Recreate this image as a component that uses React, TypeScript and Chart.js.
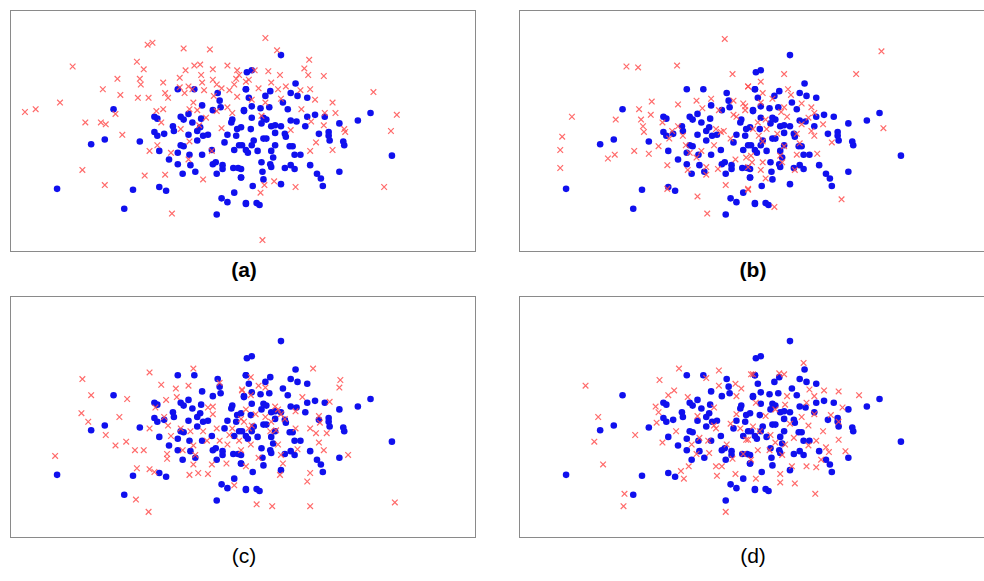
import { useRef, useEffect } from 'react';
import Chart from 'chart.js/auto';

type P = [number, number];

// blue points are shared by all four panels (pixel-like units inside the frame)
const bluePoints: P[] = [
  [53,193],[88,146],[102,141],[111,109],[122,214],[131,194],[138,143],[153,117],[156,119],[153,133],
  [156,137],[163,135],[158,153],[158,191],[165,195],[168,162],[172,127],[173,132],[177,88],[177,155],
  [177,167],[182,177],[180,117],[183,120],[180,147],[183,148],[188,114],[188,136],[189,157],[190,168],
  [192,123],[194,88],[195,175],[197,132],[197,142],[200,128],[201,119],[202,105],[202,157],[203,137],
  [208,136],[212,152],[213,110],[213,167],[216,165],[217,177],[217,220],[218,92],[220,100],[221,107],
  [222,203],[223,168],[223,172],[225,144],[228,136],[228,207],[232,123],[233,120],[234,171],[235,197],
  [235,152],[237,137],[238,130],[239,171],[242,128],[242,181],[243,147],[245,111],[247,208],[247,88],
  [248,70],[283,52],[253,68],[298,82],[247,88],[250,97],[272,90],[267,95],[293,92],[300,95],
  [310,97],[285,102],[271,107],[253,106],[245,110],[262,108],[290,109],[253,118],[265,118],[268,120],
  [263,124],[310,117],[318,115],[328,117],[293,121],[299,122],[273,127],[277,126],[283,127],[308,127],
  [343,124],[362,121],[375,113],[252,130],[277,134],[287,135],[288,138],[322,135],[332,133],[332,137],
  [333,142],[347,143],[348,147],[265,140],[268,140],[255,142],[253,147],[277,147],[292,148],[295,148],
  [240,147],[247,152],[249,155],[259,153],[273,153],[297,157],[303,157],[275,160],[397,158],[263,165],
  [272,167],[273,170],[287,171],[293,168],[297,172],[313,168],[343,175],[242,172],[242,181],[264,175],
  [265,183],[320,177],[324,182],[283,188],[326,190],[254,190],[247,209],[258,208],[261,210],
];

const redA: P[] = [
  [20,112],[31,109],[56,102],[69,64],[82,123],[79,173],[100,88],[98,123],[103,125],[102,189],
  [115,77],[118,94],[113,114],[120,136],[135,59],[142,67],[138,77],[139,83],[136,97],[147,97],
  [146,41],[151,39],[148,153],[143,179],[162,81],[164,92],[167,97],[155,111],[162,109],[160,123],
  [156,147],[170,155],[164,178],[171,219],[179,76],[179,86],[183,45],[185,68],[184,92],[188,85],
  [192,88],[194,63],[200,62],[201,73],[202,81],[193,102],[189,109],[197,110],[199,126],[206,118],
  [204,89],[210,46],[213,67],[213,78],[217,83],[222,87],[214,95],[222,129],[228,63],[238,68],
  [237,77],[235,83],[230,89],[238,96],[228,107],[217,111],[233,113],[212,153],[203,183],[189,143],
  [188,162],[180,130],[247,80],[267,34],[279,47],[312,57],[307,66],[311,73],[327,74],[256,68],
  [270,69],[282,73],[240,73],[250,78],[273,81],[260,87],[280,88],[288,85],[303,89],[313,88],
  [318,99],[283,98],[267,102],[253,99],[336,102],[304,109],[328,113],[339,113],[263,116],[314,122],
  [327,126],[293,131],[348,130],[349,133],[319,144],[313,153],[336,152],[378,91],[402,115],[396,132],
  [389,191],[298,191],[276,185],[266,189],[262,197],[264,247],
];

const redB: P[] = [
  [216,35],[115,64],[127,65],[167,63],[224,72],[59,117],[49,138],[47,152],[47,171],[104,120],
  [96,161],[103,157],[123,153],[138,156],[141,101],[128,109],[130,120],[132,127],[133,133],[140,115],
  [148,148],[152,123],[157,168],[159,140],[157,193],[168,104],[168,127],[173,137],[176,147],[178,173],
  [187,100],[188,201],[193,108],[192,153],[197,170],[197,178],[198,219],[202,98],[207,130],[205,147],
  [210,110],[212,133],[215,132],[217,189],[209,172],[222,140],[225,100],[225,115],[227,162],[228,117],
  [235,103],[237,110],[240,85],[240,193],[238,160],[187,160],[180,155],[162,132],[377,48],[351,72],
  [277,72],[253,80],[240,85],[281,88],[255,92],[284,94],[265,98],[253,102],[237,106],[295,103],
  [305,107],[277,107],[280,117],[274,112],[308,113],[302,118],[250,123],[258,120],[295,125],[317,125],
  [245,130],[259,130],[379,129],[305,132],[308,137],[290,135],[270,135],[251,137],[255,143],[293,145],
  [277,148],[326,144],[311,156],[290,157],[273,158],[243,158],[244,165],[255,165],[275,165],[240,170],
  [253,173],[288,173],[258,182],[240,194],[267,212],[336,204],
];

const redC: P[] = [
  [51,173],[79,92],[88,109],[78,128],[85,137],[103,151],[113,162],[117,132],[124,158],[125,113],
  [133,167],[142,167],[135,186],[134,219],[147,232],[148,85],[148,144],[148,187],[153,190],[154,122],
  [160,98],[165,114],[163,132],[167,141],[166,171],[166,176],[170,152],[175,102],[176,111],[180,144],
  [182,167],[188,99],[193,81],[190,147],[193,162],[195,172],[193,182],[189,193],[198,191],[208,192],
  [203,147],[207,157],[208,122],[213,129],[213,121],[217,144],[220,157],[212,182],[220,96],[228,161],
  [230,151],[227,181],[233,144],[235,204],[243,104],[240,157],[242,134],[247,124],[316,81],[344,93],
  [343,101],[305,111],[333,116],[252,90],[260,99],[267,101],[243,103],[252,109],[277,121],[280,124],
  [283,129],[298,126],[257,129],[267,132],[273,137],[287,134],[245,137],[250,144],[253,141],[272,147],
  [278,146],[298,144],[313,144],[319,149],[330,149],[322,159],[280,161],[252,161],[242,167],[300,166],
  [327,167],[352,172],[283,172],[260,175],[247,184],[285,181],[282,193],[313,191],[310,200],[258,224],
  [274,226],[313,226],[400,222],[322,131],[323,138],
];

const redD: P[] = [
  [73,99],[86,132],[82,158],[91,182],[113,213],[112,226],[124,151],[149,93],[145,121],[148,127],
  [146,138],[152,159],[158,109],[164,104],[169,81],[166,147],[171,189],[174,197],[179,184],[178,111],
  [182,161],[187,171],[188,131],[190,154],[197,91],[199,157],[200,170],[205,122],[207,144],[207,184],
  [208,194],[210,83],[210,99],[213,184],[217,232],[218,161],[222,139],[224,176],[227,97],[228,110],
  [227,192],[228,129],[232,144],[233,102],[235,171],[238,156],[243,87],[205,141],[297,75],[272,86],
  [277,87],[245,87],[333,105],[354,109],[318,104],[303,103],[308,110],[280,110],[300,117],[248,117],
  [278,119],[337,122],[268,124],[295,132],[308,129],[325,130],[258,131],[333,137],[283,139],[302,141],
  [317,147],[245,142],[252,147],[263,151],[287,154],[333,156],[240,156],[310,157],[268,159],[278,161],
  [302,162],[320,164],[262,167],[250,167],[323,169],[340,168],[275,172],[243,177],[315,177],[300,184],
  [310,185],[285,184],[273,192],[248,197],[273,201],[288,202],[309,213],
];

const panelLabels = ['(a)', '(b)', '(c)', '(d)'];
const redSets = [redA, redB, redC, redD];

const toXY = (pts: P[]) => pts.map(([x, y]) => ({ x, y }));

const Panel = ({ red }: { red: P[] }) => {
  const chartRef = useRef<HTMLCanvasElement | null>(null);

  useEffect(() => {
    if (!chartRef.current) return;
    const chart = new Chart(chartRef.current, {
      type: 'scatter',
      data: {
        datasets: [
          {
            data: toXY(red),
            pointStyle: 'crossRot',
            pointRadius: 4,
            borderColor: 'rgba(255, 80, 80, 0.85)',
            borderWidth: 1.2,
            clip: false,
          },
          {
            data: toXY(bluePoints),
            pointStyle: 'circle',
            pointRadius: 3.3,
            backgroundColor: '#1010ee',
            borderColor: '#1010ee',
            borderWidth: 0,
            clip: false,
          },
        ],
      },
      options: {
        animation: false,
        responsive: false,
        maintainAspectRatio: false,
        layout: { padding: 0 },
        scales: {
          x: { type: 'linear', min: 11, max: 477, display: false },
          y: { type: 'linear', min: 11, max: 253, reverse: true, display: false },
        },
        plugins: { legend: { display: false }, tooltip: { enabled: false } },
      },
    });
    return () => chart.destroy();
  }, [red]);

  return <canvas ref={chartRef} width={464} height={240} style={{ display: 'block' }} />;
};

const App = () => {
  const lefts = [11, 520, 11, 520];
  const tops = [11, 11, 297, 297];
  return (
    <div style={{ position: 'absolute', left: 0, top: 0, width: 984, height: 581, background: '#fff', fontFamily: '"Liberation Sans", Arial, sans-serif' }}>
      {redSets.map((red, i) => (
        <div key={i}>
          <div style={{ position: 'absolute', left: lefts[i] - 1, top: tops[i] - 1, width: 464, height: 240, border: '1.5px solid #8a8a8a' }}>
            <Panel red={red} />
          </div>
          <div style={{ position: 'absolute', left: lefts[i], width: 466, top: tops[i] + 247, textAlign: 'center', fontSize: 21, fontWeight: i < 2 ? 'bold' : 'normal' }}>
            {panelLabels[i]}
          </div>
        </div>
      ))}
    </div>
  );
};

export default App;
